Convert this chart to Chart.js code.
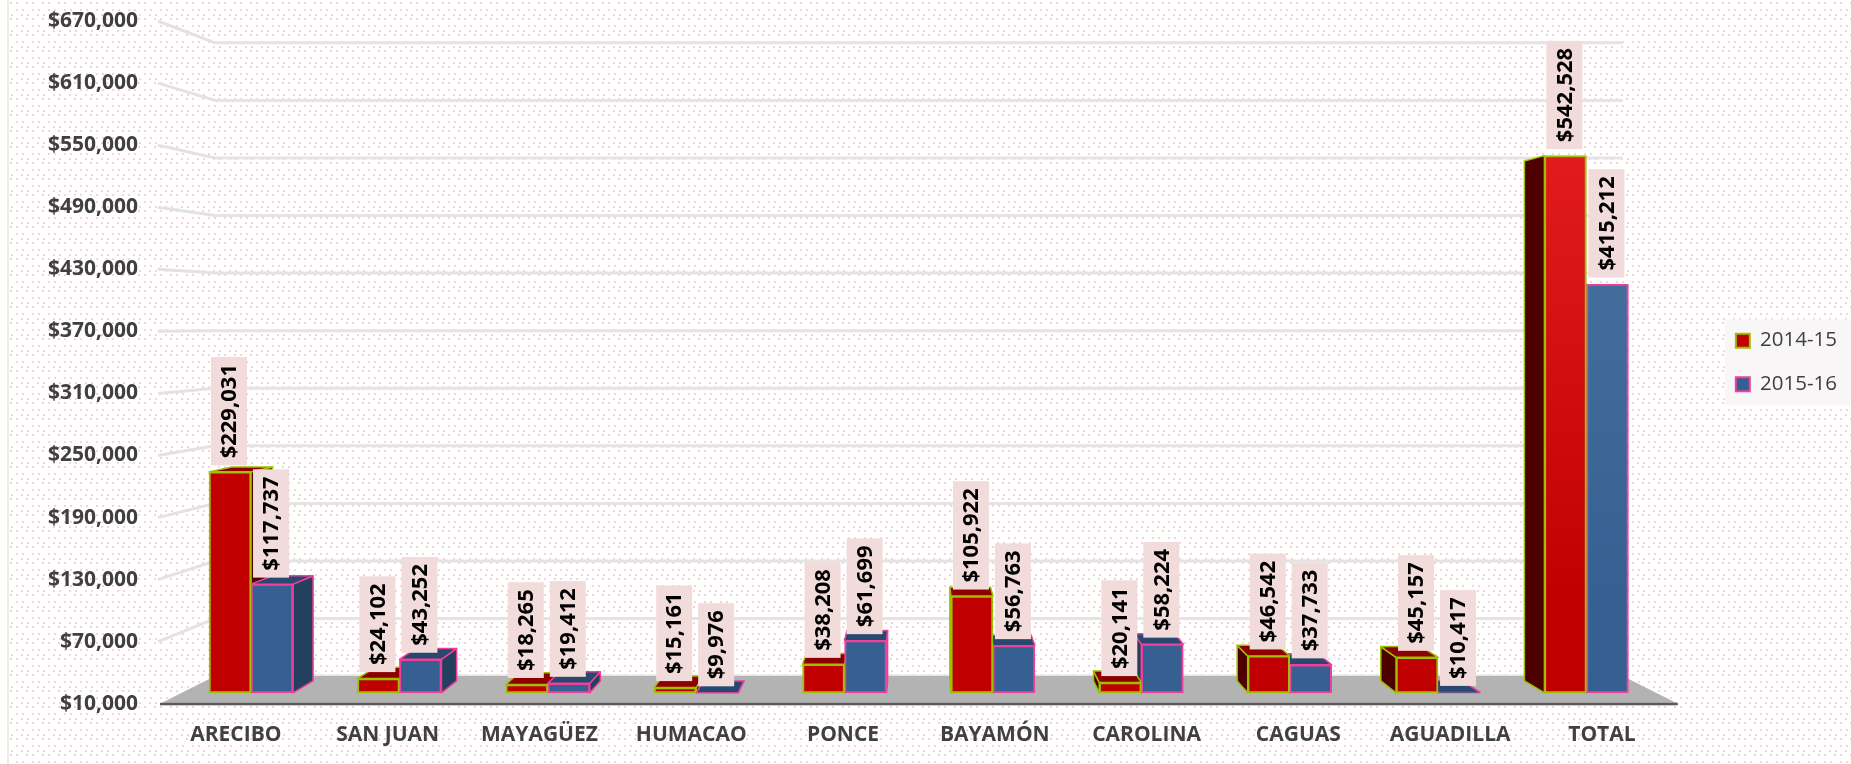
<!DOCTYPE html>
<html>
<head>
<meta charset="utf-8">
<style>
    html, body { margin: 0; padding: 0; background: #fff; }
    #wrap { width: 1851px; height: 764px; }
</style>
<script src="https://cdn.jsdelivr.net/npm/chart.js@4/dist/chart.umd.min.js"></script>
</head>
<body>
<div id="wrap"><canvas id="regionChart" width="1851" height="764"></canvas></div>
<script>
// --- DATA ---
const categories = ['ARECIBO', 'SAN JUAN', 'MAYAGÜEZ', 'HUMACAO', 'PONCE', 'BAYAMÓN', 'CAROLINA', 'CAGUAS', 'AGUADILLA', 'TOTAL'];
const values2014 = [229031, 24102, 18265, 15161, 38208, 105922, 20141, 46542, 45157, 542528];
const values2015 = [117737, 43252, 19412, 9976, 61699, 56763, 58224, 37733, 10417, 415212];
const seriesNames = ['2014-15', '2015-16'];
const axisMin = 10000;
const axisMax = 670000;
const axisStep = 60000;

// --- LOOK ---
const fontFamily = '"Open Sans", "Noto Sans", sans-serif';
const textGrey = '#404040';
const redStyle = { front: '#C00000', bright: '#E21C1C', side: '#4D0000', top: '#8E0000', edge: '#9DC000' };
const blueStyle = { front: '#376092', bright: '#47729F', side: '#24405F', top: '#29486F', edge: '#F0409A' };
const styles = [redStyle, blueStyle];

// the whole picture leans towards one vanishing point
const vanishY = 322;
const floorDepth = 0.0726;
const barDepth = 0.032;

const money = v => '$' + Number(v).toLocaleString('en-US');

function toVanish(chart, x, y, depth) {
    const vx = (chart.chartArea.left + chart.chartArea.right) / 2;
    return [x + (vx - x) * depth, y + (vanishY - y) * depth];
}

function fillPoly(ctx, pts, fill, stroke, lineWidth) {
    ctx.beginPath();
    pts.forEach((p, i) => i ? ctx.lineTo(p[0], p[1]) : ctx.moveTo(p[0], p[1]));
    ctx.closePath();
    ctx.fillStyle = fill;
    ctx.fill();
    if (stroke) {
        ctx.strokeStyle = stroke;
        ctx.lineWidth = lineWidth;
        ctx.lineJoin = 'round';
        ctx.stroke();
    }
}

function dotPattern(ctx) {
    const tile = document.createElement('canvas');
    tile.width = 16;
    tile.height = 16;
    const t = tile.getContext('2d');
    t.fillStyle = '#F2D6D6';
    [[0, 2], [10, 2], [0, 9], [6, 9], [5, 14], [11, 14]].forEach(d => t.fillRect(d[0], d[1], 2, 2));
    return ctx.createPattern(tile, 'repeat');
}

// page dots, margin strip and the pale box behind the legend
const backdropPlugin = {
    id: 'backdrop',
    beforeDraw(chart) {
        const { ctx, width, height, legend } = chart;
        ctx.save();
        ctx.fillStyle = '#fff';
        ctx.fillRect(0, 0, width, height);
        ctx.fillStyle = dotPattern(ctx);
        ctx.fillRect(9, 0, width - 9, height);
        ctx.fillStyle = '#EEEBE0';
        ctx.fillRect(7, 0, 2, height);
        const boxes = legend.legendHitBoxes;
        const first = boxes[0];
        const last = boxes[boxes.length - 1];
        ctx.fillStyle = '#F8F6F6';
        ctx.fillRect(first.left - 11, first.top - 11, legend.right - first.left + 17, last.top + last.height - first.top + 22);
        ctx.restore();
    }
};

// floor, walls and the side and top faces of every bar
const depthPlugin = {
    id: 'depth',
    beforeDatasetsDraw(chart) {
        const { ctx, chartArea, scales } = chart;
        const { left, right, bottom } = chartArea;
        ctx.save();

        scales.y.ticks.forEach(tick => {
            const py = scales.y.getPixelForValue(tick.value);
            const a = toVanish(chart, left, py, floorDepth);
            const b = toVanish(chart, right, py, floorDepth);
            ctx.lineWidth = 3;
            ctx.strokeStyle = '#E4E4E4';
            ctx.beginPath();
            ctx.moveTo(a[0], a[1]);
            ctx.lineTo(b[0], b[1]);
            ctx.stroke();
            if (tick.value !== axisMin) {
                ctx.strokeStyle = '#E2E2E2';
                ctx.beginPath();
                ctx.moveTo(left - 2, py);
                ctx.lineTo(a[0], a[1]);
                ctx.stroke();
            }
        });

        fillPoly(ctx, [[left, bottom], toVanish(chart, left, bottom, floorDepth), toVanish(chart, right, bottom, floorDepth), [right, bottom]], '#B3B3B3');
        ctx.fillStyle = '#5A5A5A';
        ctx.fillRect(left, bottom - 1, right - left, 2.5);

        const vx = (left + right) / 2;
        categories.forEach((c, i) => {
            const order = chart.getDatasetMeta(0).data[i].x < vx ? [0, 1] : [1, 0];
            order.forEach(s => {
                const bar = chart.getDatasetMeta(s).data[i];
                const st = styles[s];
                const L = bar.x - bar.width / 2;
                const R = bar.x + bar.width / 2;
                const T = Math.min(bar.y, bar.base);
                const B = Math.max(bar.y, bar.base);
                const edgeX = R < vx ? R : (L > vx ? L : null);
                if (edgeX !== null) {
                    fillPoly(ctx, [[edgeX, T], toVanish(chart, edgeX, T, barDepth), toVanish(chart, edgeX, B, barDepth), [edgeX, B]], st.side, st.edge, 1.5);
                }
                if (T > vanishY) {
                    fillPoly(ctx, [[L, T], toVanish(chart, L, T, barDepth), toVanish(chart, R, T, barDepth), [R, T]], st.top, st.edge, 1.5);
                }
            });
        });
        ctx.restore();
    },
    afterDatasetsDraw(chart) {
        // rotated value labels on their pink boxes
        const { ctx, data } = chart;
        ctx.save();
        ctx.font = 'bold 22px ' + fontFamily;
        ctx.textAlign = 'center';
        ctx.textBaseline = 'middle';
        data.datasets.forEach((ds, s) => {
            chart.getDatasetMeta(s).data.forEach((bar, i) => {
                const label = money(ds.data[i].y);
                const h = ctx.measureText(label).width + 14;
                const bottom = Math.min(bar.y, bar.base) - 6.5;
                ctx.fillStyle = '#F2DCDB';
                ctx.fillRect(bar.x - 19, bottom - h, 36, h);
                ctx.save();
                ctx.translate(bar.x - 1, bottom - h / 2);
                ctx.rotate(-Math.PI / 2);
                ctx.fillStyle = '#000';
                ctx.fillText(label, 0, 1);
                ctx.restore();
            });
        });
        ctx.restore();
    }
};

// the last group is lighter towards its top
function barFill(context, st) {
    const chart = context.chart;
    if (context.dataIndex !== categories.length - 1 || !chart.chartArea) return st.front;
    const g = chart.ctx.createLinearGradient(0, chart.chartArea.top + 130, 0, chart.chartArea.bottom - 100);
    g.addColorStop(0, st.bright);
    g.addColorStop(1, st.front);
    return g;
}

function makeDataset(name, values, st) {
    return {
        label: name,
        data: values.map((v, i) => ({ x: i, y: v })),
        xAxisID: 'xBars',
        yAxisID: 'yBars',
        base: axisMin,
        barThickness: 42,
        backgroundColor: ctx => barFill(ctx, st),
        borderColor: st.edge,
        borderWidth: 2,
        borderSkipped: false
    };
}

new Chart(document.getElementById('regionChart'), {
    type: 'bar',
    data: {
        labels: categories,
        datasets: [
            makeDataset(seriesNames[0], values2014, redStyle),
            makeDataset(seriesNames[1], values2015, blueStyle)
        ]
    },
    plugins: [backdropPlugin, depthPlugin],
    options: {
        responsive: false,
        animation: false,
        layout: { padding: { left: 46, top: 21, right: 4, bottom: -3 } },
        plugins: {
            tooltip: { enabled: false },
            legend: {
                position: 'right',
                fullSize: false,
                labels: {
                    boxWidth: 14,
                    boxHeight: 14,
                    padding: 23,
                    color: textGrey,
                    font: { family: fontFamily, size: 20.5 }
                }
            }
        },
        scales: {
            x: {
                grid: { display: false, drawTicks: false },
                border: { display: false },
                ticks: {
                    color: textGrey,
                    padding: 19,
                    autoSkip: false,
                    maxRotation: 0,
                    font: { family: fontFamily, size: 21, weight: 'bold' }
                }
            },
            // bars sit a little deeper than the axis, so they get their own hidden scales
            xBars: {
                type: 'linear',
                display: false,
                position: 'bottom',
                offset: false,
                min: -0.6136,
                max: 9.616,
                ticks: { stepSize: 1, includeBounds: false }
            },
            y: {
                min: axisMin,
                max: axisMax,
                grid: { display: false, drawTicks: false },
                border: { display: false },
                afterFit: scale => {
                    scale.width = 114;
                    scale.paddingTop = 0;
                    scale.paddingBottom = 0;
                },
                ticks: {
                    stepSize: axisStep,
                    padding: 22,
                    color: textGrey,
                    callback: money,
                    font: { family: fontFamily, size: 21, weight: 'bold' }
                }
            },
            yBars: {
                position: 'right',
                min: -900,
                max: 676000,
                grid: { display: false, drawTicks: false },
                border: { display: false },
                ticks: { display: false },
                afterFit: scale => {
                    scale.width = 35;
                    scale.paddingTop = 0;
                    scale.paddingBottom = 0;
                }
            }
        }
    }
});
</script>
</body>
</html>
